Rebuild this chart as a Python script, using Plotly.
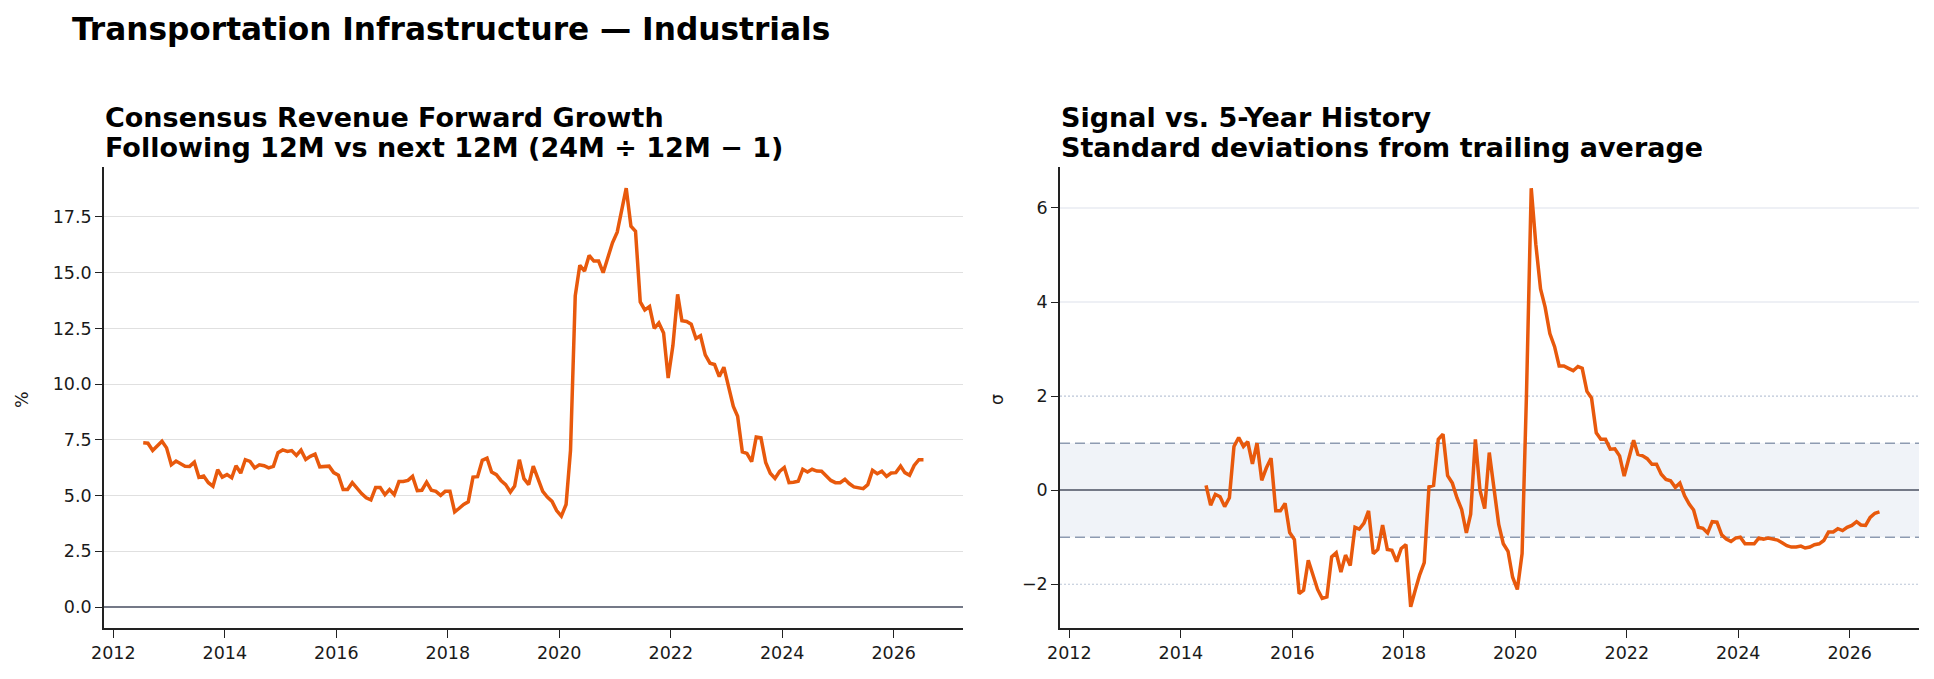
import pandas as pd
import plotly.graph_objects as go

# ---------------- data ----------------
growth_start = "2012-07-15"
growth_pct = [
    7.37, 7.35, 7.02, 7.24, 7.44, 7.14, 6.38, 6.55, 6.43, 6.32,
    6.31, 6.50, 5.82, 5.88, 5.58, 5.42, 6.16, 5.83, 5.94, 5.80,
    6.34, 6.01, 6.61, 6.53, 6.24, 6.38, 6.34, 6.24, 6.31, 6.92,
    7.05, 6.98, 7.02, 6.80, 7.04, 6.62, 6.76, 6.86, 6.29, 6.31,
    6.32, 6.03, 5.91, 5.27, 5.27, 5.58, 5.31, 5.09, 4.90, 4.81,
    5.36, 5.36, 5.04, 5.27, 5.04, 5.63, 5.63, 5.68, 5.86, 5.22,
    5.24, 5.60, 5.24, 5.19, 5.01, 5.19, 5.19, 4.27, 4.42, 4.60,
    4.72, 5.83, 5.85, 6.58, 6.68, 6.06, 5.94, 5.68, 5.49, 5.16,
    5.43, 6.61, 5.76, 5.49, 6.32, 5.76, 5.19, 4.93, 4.74, 4.33,
    4.08, 4.60, 7.03, 13.96, 15.33, 15.07, 15.77, 15.52, 15.52, 15.00,
    15.74, 16.34, 16.82, 17.90, 18.79, 17.08, 16.86, 13.69, 13.33, 13.48,
    12.50, 12.74, 12.29, 10.27, 11.73, 14.03, 12.84, 12.81, 12.69, 12.05,
    12.17, 11.31, 10.94, 10.88, 10.34, 10.76, 9.87, 9.00, 8.56, 6.96,
    6.89, 6.52, 7.63, 7.59, 6.49, 6.00, 5.77, 6.08, 6.26, 5.58,
    5.60, 5.64, 6.18, 6.06, 6.18, 6.10, 6.09, 5.91, 5.68, 5.58,
    5.58, 5.73, 5.54, 5.39, 5.37, 5.31, 5.49, 6.13, 5.98, 6.09,
    5.86, 6.01, 6.03, 6.32, 6.03, 5.91, 6.35, 6.61, 6.61,
]

zscore_start = "2014-06-15"
zscore = [
    0.10, -0.32, -0.09, -0.14, -0.35, -0.16, 0.93, 1.12, 0.93, 1.03,
    0.56, 1.00, 0.21, 0.47, 0.68, -0.44, -0.44, -0.28, -0.90, -1.05,
    -2.20, -2.13, -1.49, -1.80, -2.11, -2.30, -2.27, -1.42, -1.33, -1.74,
    -1.38, -1.60, -0.79, -0.83, -0.70, -0.44, -1.35, -1.26, -0.74, -1.26,
    -1.28, -1.52, -1.24, -1.16, -2.48, -2.15, -1.80, -1.54, 0.07, 0.10,
    1.08, 1.19, 0.31, 0.15, -0.16, -0.41, -0.91, -0.51, 1.08, 0.00,
    -0.39, 0.80, 0.02, -0.73, -1.14, -1.30, -1.85, -2.11, -1.35, 2.06,
    6.42, 5.23, 4.28, 3.89, 3.33, 3.05, 2.64, 2.64, 2.59, 2.54,
    2.63, 2.59, 2.10, 1.96, 1.22, 1.08, 1.08, 0.87, 0.88, 0.73,
    0.30, 0.69, 1.06, 0.76, 0.73, 0.67, 0.55, 0.55, 0.34, 0.23,
    0.20, 0.06, 0.15, -0.12, -0.30, -0.42, -0.79, -0.81, -0.91, -0.67,
    -0.68, -0.95, -1.04, -1.09, -1.02, -1.00, -1.14, -1.14, -1.14, -1.02,
    -1.04, -1.02, -1.04, -1.06, -1.12, -1.18, -1.21, -1.21, -1.19, -1.23,
    -1.21, -1.16, -1.14, -1.07, -0.89, -0.89, -0.82, -0.86, -0.79, -0.75,
    -0.67, -0.74, -0.75, -0.58, -0.49, -0.46,
]

year_ticks = ["2012", "2014", "2016", "2018", "2020", "2022", "2024", "2026"]
growth_ticks = [0.0, 2.5, 5.0, 7.5, 10.0, 12.5, 15.0, 17.5]
z_ticks = [-2, 0, 2, 4, 6]
band_sigma = 1
outer_sigma = 2

suptitle = "Transportation Infrastructure — Industrials"
left_title = ["Consensus Revenue Forward Growth", "Following 12M vs next 12M (24M ÷ 12M − 1)"]
right_title = ["Signal vs. 5-Year History", "Standard deviations from trailing average"]

growth_dates = pd.date_range(growth_start, periods=len(growth_pct), freq=pd.DateOffset(months=1))
z_dates = pd.date_range(zscore_start, periods=len(zscore), freq=pd.DateOffset(months=1))

# ---------------- style ----------------
W, H = 1934, 679
ORANGE = "#E8590C"
INK = "#1a1a1a"
SPINE = "#222222"
FONT = "DejaVu Sans"
TICK_PX = 17.5

def px_x(p):
    return p / W

def px_y(p):
    return 1 - p / H

PLOT_TOP, PLOT_BOT = 167, 628
L_X0, L_X1 = 104, 963
R_X0, R_X1 = 1060, 1919

fig = go.Figure()
fig.add_trace(go.Scatter(x=growth_dates, y=growth_pct, mode="lines",
                         line=dict(color=ORANGE, width=3.5), xaxis="x", yaxis="y",
                         showlegend=False, hoverinfo="x+y"))
fig.add_trace(go.Scatter(x=z_dates, y=zscore, mode="lines",
                         line=dict(color=ORANGE, width=3.5), xaxis="x2", yaxis="y2",
                         showlegend=False, hoverinfo="x+y"))

xrange = ["2011-11-01", "2027-03-31"]
common_x = dict(
    type="date", range=xrange, tickvals=[f"{y}-01-01" for y in year_ticks],
    ticktext=year_ticks, showgrid=False, zeroline=False, automargin=False,
    showline=True, linecolor=SPINE, linewidth=1.6, mirror=False,
    ticks="outside", ticklen=8, tickwidth=1.4, tickcolor=SPINE,
    tickfont=dict(family=FONT, size=TICK_PX, color=INK),
)
common_y = dict(
    showline=True, linecolor=SPINE, linewidth=1.6, automargin=False,
    ticks="outside", ticklen=7, tickwidth=1.4, tickcolor=SPINE,
    tickfont=dict(family=FONT, size=TICK_PX, color=INK),
    zeroline=True, zerolinecolor="#747987", zerolinewidth=1.5,
)

fig.update_layout(
    width=W, height=H, margin=dict(l=0, r=0, t=0, b=0, autoexpand=False),
    paper_bgcolor="white", plot_bgcolor="white",
    xaxis=dict(domain=[px_x(L_X0), px_x(L_X1)], anchor="y", **common_x),
    xaxis2=dict(domain=[px_x(R_X0), px_x(R_X1)], anchor="y2", **common_x),
    yaxis=dict(domain=[px_y(PLOT_BOT), px_y(PLOT_TOP)], anchor="x",
               range=[-0.94, 19.74], tickvals=growth_ticks, tickformat=".1f",
               showgrid=True, gridcolor="#e0e0e0", gridwidth=1, **common_y),
    yaxis2=dict(domain=[px_y(PLOT_BOT), px_y(PLOT_TOP)], anchor="x2",
                range=[-2.93, 6.87], tickvals=z_ticks, tickformat="d",
                showgrid=False, **common_y),
)

# right panel reference lines / band
shapes = [
    dict(type="rect", xref="x2 domain", yref="y2", x0=0, x1=1,
         y0=-band_sigma, y1=band_sigma, fillcolor="#f0f3f8", line=dict(width=0), layer="below"),
]
for v in (4, 6):
    shapes.append(dict(type="line", xref="x2 domain", yref="y2", x0=0, x1=1, y0=v, y1=v,
                       line=dict(color="#dde2eb", width=1.1), layer="below"))
for v in (-outer_sigma, outer_sigma):
    shapes.append(dict(type="line", xref="x2 domain", yref="y2", x0=0, x1=1, y0=v, y1=v,
                       line=dict(color="#bcc6d8", width=1.2, dash="2px,2px"), layer="below"))
for v in (-band_sigma, band_sigma):
    shapes.append(dict(type="line", xref="x2 domain", yref="y2", x0=0, x1=1, y0=v, y1=v,
                       line=dict(color="#8e9bb1", width=1.5, dash="10px,5px"), layer="below"))
fig.update_layout(shapes=shapes)

ann = []
ann.append(dict(text=f"<b>{suptitle}</b>", xref="paper", yref="paper",
                x=px_x(70), y=px_y(29), xanchor="left", yanchor="middle",
                showarrow=False, font=dict(family=FONT, size=31.2, color="black")))
for lines, x0 in ((left_title, L_X0), (right_title, R_X0)):
    for t, yc in zip(lines, (117, 147)):
        ann.append(dict(text=f"<b>{t}</b>", xref="paper", yref="paper",
                        x=px_x(x0 - 1), y=px_y(yc), xanchor="left", yanchor="middle",
                        showarrow=False, font=dict(family=FONT, size=27, color="black")))
ann.append(dict(text="%", xref="paper", yref="paper", x=px_x(22), y=px_y(400),
                xanchor="center", yanchor="middle", textangle=-90, showarrow=False,
                font=dict(family=FONT, size=TICK_PX, color=INK)))
ann.append(dict(text="σ", xref="paper", yref="paper", x=px_x(997), y=px_y(400),
                xanchor="center", yanchor="middle", textangle=-90, showarrow=False,
                font=dict(family=FONT, size=TICK_PX, color=INK)))
fig.update_layout(annotations=ann)

fig.write_html("out.html")
